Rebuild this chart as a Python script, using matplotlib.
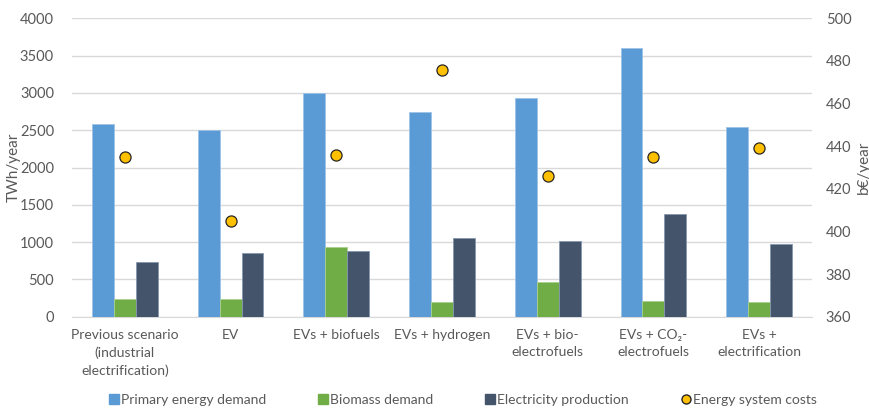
import numpy as np
import matplotlib
matplotlib.use("Agg")
import matplotlib.pyplot as plt
from matplotlib.lines import Line2D

plt.rcParams['font.family'] = ['Lato', 'DejaVu Sans']

scenarios = ["Previous scenario\n(industrial\nelectrification)", "EV", "EVs + biofuels",
             "EVs + hydrogen", "EVs + bio-\nelectrofuels", "EVs + CO\u2082-\nelectrofuels",
             "EVs +\nelectrification"]
primary = [2590, 2500, 3000, 2740, 2930, 3600, 2540]
biomass = [235, 237, 930, 200, 465, 206, 198]
electricity = [737, 855, 880, 1050, 1020, 1372, 975]
costs = [435, 405, 436, 476, 426, 435, 439]

grey = "#595959"
c_blue, c_green, c_dark, c_gold = "#5b9bd5", "#70ad47", "#44546a", "#ffc000"

fig = plt.figure(figsize=(8.7, 4.08), dpi=100)
ax = fig.add_axes([0.0828, 0.2238, 0.8505, 0.7312])
ax2 = ax.twinx()

x = np.arange(len(scenarios))
w = 0.207
ax.bar(x - w, primary, w, color=c_blue, edgecolor="#9dc3e6", linewidth=0.6, zorder=3)
ax.bar(x, biomass, w, color=c_green, edgecolor="#a9d18e", linewidth=0.6, zorder=3)
ax.bar(x + w, electricity, w, color=c_dark, edgecolor="#8497b0", linewidth=0.6, zorder=3)
ax2.scatter(x, costs, s=64, color=c_gold, edgecolor="#262626", linewidth=0.9, zorder=4)

ax.set_xlim(-0.5, len(scenarios) - 0.5)
ax.set_ylim(0, 4000)
ax.set_yticks(range(0, 4001, 500))
ax2.set_ylim(360, 500)
ax2.set_yticks(range(360, 501, 20))

ax.yaxis.grid(True, color="#d9d9d9", linewidth=1.0, zorder=0)
ax.set_axisbelow(True)
for a in (ax, ax2):
    for s in a.spines.values():
        s.set_visible(False)
    a.tick_params(length=0, labelsize=10.5, colors=grey)
ax.spines['bottom'].set_visible(True)
ax.spines['bottom'].set_color("#d9d9d9")

ax.set_xticks(x)
ax.set_xticklabels(scenarios, linespacing=1.5, fontsize=10)
ax.tick_params(axis='x', pad=9)
ax.tick_params(axis='y', pad=13)
ax2.tick_params(axis='y', pad=10)

ax.set_ylabel("TWh/year", fontsize=11, color=grey)
ax.yaxis.set_label_coords(-0.069, 0.5)
ax2.set_ylabel("b\u20ac/year", fontsize=11, color=grey, labelpad=4)

handles = [
    Line2D([], [], marker='s', linestyle='none', color=c_blue, markersize=6.5),
    Line2D([], [], marker='s', linestyle='none', color=c_green, markersize=6.5),
    Line2D([], [], marker='s', linestyle='none', color=c_dark, markersize=6.5),
    Line2D([], [], marker='o', linestyle='none', markerfacecolor=c_gold,
           markeredgecolor="#262626", markersize=6.5),
]
labels = ["Primary energy demand", "Biomass demand", "Electricity production", "Energy system costs"]
leg = fig.legend(handles, labels, loc='center', bbox_to_anchor=(0.531, 0.02), ncol=4,
                 frameon=False, fontsize=10, handletextpad=0.0, columnspacing=3.6,
                 handlelength=1.0)
for t in leg.get_texts():
    t.set_color(grey)

fig.savefig("out.png", dpi=100)
